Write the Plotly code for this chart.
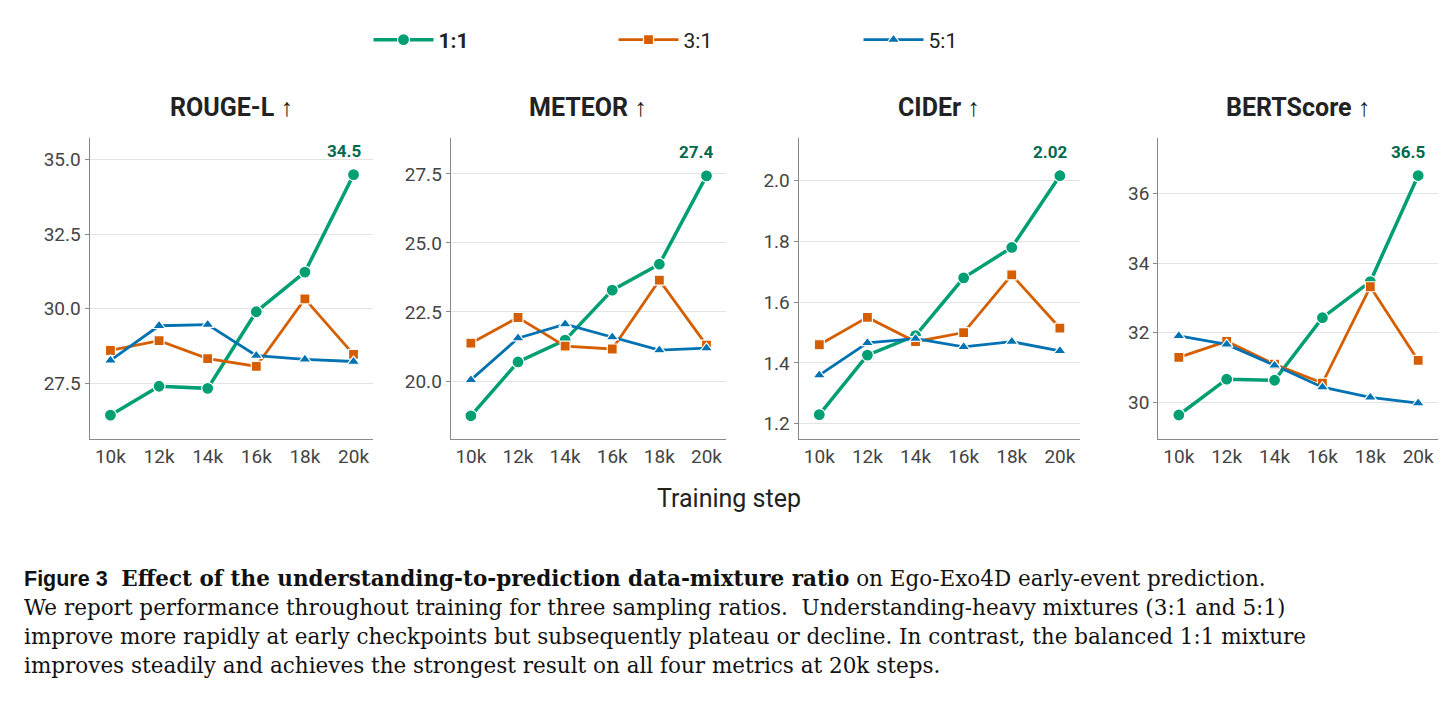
import plotly.graph_objects as go

steps = ["10k", "12k", "14k", "16k", "18k", "20k"]
metrics = ["ROUGE-L ↑", "METEOR ↑", "CIDEr ↑", "BERTScore ↑"]
series_names = ["1:1", "3:1", "5:1"]
rouge = {"1:1": [26.43, 27.4, 27.33, 29.9, 31.23, 34.5],
         "3:1": [28.6, 28.93, 28.33, 28.07, 30.33, 28.47],
         "5:1": [28.27, 29.43, 29.47, 28.43, 28.3, 28.23]}
meteor = {"1:1": [18.74, 20.69, 21.48, 23.29, 24.23, 27.43],
          "3:1": [21.37, 22.3, 21.26, 21.16, 23.65, 21.3],
          "5:1": [20.04, 21.55, 22.06, 21.59, 21.12, 21.19]}
cider = {"1:1": [1.23, 1.426, 1.49, 1.68, 1.78, 2.016],
         "3:1": [1.46, 1.55, 1.47, 1.50, 1.69, 1.515],
         "5:1": [1.36, 1.466, 1.48, 1.453, 1.47, 1.44]}
bert = {"1:1": [29.63, 30.66, 30.63, 32.43, 33.47, 36.52],
        "3:1": [31.29, 31.75, 31.09, 30.55, 33.32, 31.2],
        "5:1": [31.91, 31.66, 31.06, 30.43, 30.14, 29.97]}
best_labels = ["34.5", "27.4", "2.02", "36.5"]
data = [rouge, meteor, cider, bert]
yranges = [[25.63, 35.73], [17.9, 28.8], [1.15, 2.14], [28.94, 37.6]]
ydticks = [2.5, 2.5, 0.2, 2]
yfmt = [".1f", ".1f", ".1f", "d"]

colors = {"1:1": "#009E73", "3:1": "#D55E00", "5:1": "#0072B2"}
symbols = {"1:1": "circle", "3:1": "square", "5:1": "triangle-up"}
legend_names = {"1:1": "<b>1:1</b>", "3:1": "3:1", "5:1": "5:1"}
domains = [(0.056, 0.251), (0.304, 0.493), (0.543, 0.736), (0.790, 0.982)]
H = 707
off = 8
ydom = [1 - (440 - off - 1) / H, 1 - (138 - off) / H]

fig = go.Figure()
for i, d in enumerate(data):
    ax = "" if i == 0 else str(i + 1)
    for s in series_names:
        fig.add_trace(go.Scatter(
            x=steps, y=d[s], mode="lines+markers", name=legend_names[s],
            legendgroup=s, showlegend=(i == 0),
            line=dict(color=colors[s], width=3.5 if s == "1:1" else 2.8),
            marker=dict(symbol=symbols[s], size={"1:1": 12, "3:1": 10, "5:1": 11}[s], color=colors[s],
                        line=dict(color="white", width=1.2)),
            xaxis="x" + ax, yaxis="y" + ax))
    fig.add_annotation(x=steps[-1], y=d["1:1"][-1], xref="x" + ax, yref="y" + ax,
                       text="<b>" + best_labels[i] + "</b>", showarrow=False, yshift=24, xshift=-10,
                       font=dict(size=17, color="#006a4e"))
    fig.add_annotation(x=sum(domains[i]) / 2, y=ydom[1] + 0.02, xref="paper", yref="paper",
                       text="<b>" + metrics[i] + "</b>", showarrow=False, xanchor="center", yanchor="bottom",
                       font=dict(size=25, color="#222"))
    common_x = dict(domain=domains[i], type="category", range=[-0.43, 5.41],
                    showline=True, linecolor="#888", ticks="", showgrid=False,
                    tickfont=dict(size=19, color="#444"), anchor="y" + ax)
    common_y = dict(domain=ydom, range=yranges[i], dtick=ydticks[i], tickformat=yfmt[i],
                    showline=True, linecolor="#888", ticks="outside", ticklen=4, tickcolor="#888",
                    gridcolor="#e3e3e3", zeroline=False,
                    tickfont=dict(size=19, color="#444"), anchor="x" + ax)
    fig.layout["xaxis" + ax] = common_x
    fig.layout["yaxis" + ax] = common_y

fig.add_annotation(x=0.495, y=1 - (515 - off) / H, xref="paper", yref="paper", text="Training step",
                   showarrow=False, xanchor="center", font=dict(size=25, color="#222"))

serif = "DejaVu Serif"
cap = [
    "<span style='font-family:Liberation Sans'><b>Figure 3</b></span>  <b>Effect of the understanding-to-prediction data-mixture ratio</b> on Ego-Exo4D early-event prediction.",
    "We report performance throughout training for three sampling ratios.  Understanding-heavy mixtures (3:1 and 5:1)",
    "improve more rapidly at early checkpoints but subsequently plateau or decline. In contrast, the balanced 1:1 mixture",
    "improves steadily and achieves the strongest result on all four metrics at 20k steps.",
]
for k, t in enumerate(cap):
    fig.add_annotation(x=14 / 1456, y=1 - (578 - off + 29 * k) / H, xref="paper", yref="paper",
                       text=t, showarrow=False, xanchor="left", yanchor="middle", align="left",
                       font=dict(size=21.5, color="#111", family=serif))

fig.update_layout(
    width=1456, height=707, margin=dict(l=0, r=0, t=0, b=0),
    plot_bgcolor="white", paper_bgcolor="white",
    font=dict(family="Roboto"),
    legend=dict(orientation="h", x=0.5, xanchor="center", y=1 - (40 - off) / H, yanchor="middle",
                font=dict(size=21, color="#222"), itemwidth=60, entrywidth=170),
)
fig.write_html("out.html")
